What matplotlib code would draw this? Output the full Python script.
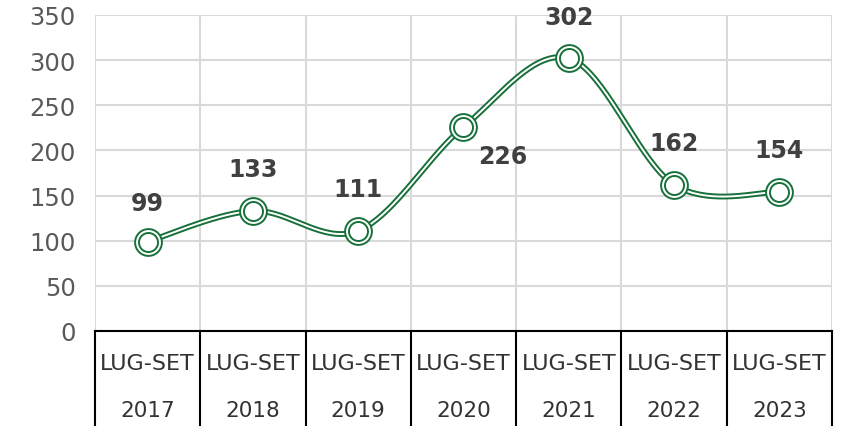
import numpy as np
import matplotlib.pyplot as plt

periods = ["LUG-SET"] * 7
years = ["2017", "2018", "2019", "2020", "2021", "2022", "2023"]
values = [99, 133, 111, 226, 302, 162, 154]

green = "#17703a"
text_col = "#404040"
grid_col = "#d9d9d9"


def smooth(xs, ys, n=40):
    # Excel-like smoothed line (Catmull-Rom as cubic bezier)
    px = np.concatenate([[xs[0]], xs, [xs[-1]]])
    py = np.concatenate([[ys[0]], ys, [ys[-1]]])
    out_x, out_y = [], []
    t = np.linspace(0, 1, n)
    for i in range(1, len(px) - 2):
        p0 = np.array([px[i], py[i]])
        p3 = np.array([px[i + 1], py[i + 1]])
        c1 = p0 + (p3 - np.array([px[i - 1], py[i - 1]])) / 6
        c2 = p3 - (np.array([px[i + 2], py[i + 2]]) - p0) / 6
        b = ((1 - t) ** 3)[:, None] * p0 + (3 * (1 - t) ** 2 * t)[:, None] * c1 \
            + (3 * (1 - t) * t ** 2)[:, None] * c2 + (t ** 3)[:, None] * p3
        out_x.extend(b[:, 0])
        out_y.extend(b[:, 1])
    return np.array(out_x), np.array(out_y)


x = np.arange(len(values))
sx, sy = smooth(x.astype(float), np.array(values, dtype=float))

fig = plt.figure(figsize=(8.43, 4.27), dpi=100)
ax = fig.add_axes([95 / 843, 95 / 427, 737 / 843, 316 / 427])

ax.set_xlim(-0.5, len(values) - 0.5)
ax.set_ylim(0, 350)
ax.set_yticks(range(0, 351, 50))
ax.set_xticks([])
for yv in range(50, 351, 50):
    ax.axhline(yv, color=grid_col, lw=1.5, zorder=0)
for b in np.arange(-0.5, len(values), 1.0):
    ax.axvline(b, color=grid_col, lw=1.5, zorder=0)
for s in ax.spines.values():
    s.set_visible(False)
ax.tick_params(axis="y", length=0, labelsize=17.5, labelcolor="#595959", pad=14)

# double line
ax.plot(sx, sy, color=green, lw=4.2, solid_capstyle="round", zorder=3)
ax.plot(sx, sy, color="white", lw=1.4, solid_capstyle="round", zorder=4)
# double ring markers
ax.plot(x, values, "o", ms=16.5, mfc="white", mec=green, mew=4.2, zorder=5)
ax.plot(x, values, "o", ms=16.5, mfc="none", mec="white", mew=1.4, zorder=6)

# data labels
offsets = [(0, 28), (0, 30), (0, 30), (28, -21), (0, 30), (0, 30), (0, 30)]
for xi, v, (dx, dy) in zip(x, values, offsets):
    ax.annotate(str(v), (xi, v), xytext=(dx, dy), textcoords="offset points",
                ha="center", va="center", fontsize=17, fontweight="bold",
                color=text_col, zorder=7)

# x axis with two-level category labels
px_unit = 350 / 316
ax.plot([0, 1], [0, 0], transform=ax.transAxes, color="black", lw=1.5, clip_on=False, zorder=8)
for b in np.arange(-0.5, len(values), 1.0):
    ax.plot([b, b], [0, -110], color="black", lw=1.5, clip_on=False, zorder=8)
for xi, p, yr in zip(x, periods, years):
    ax.text(xi, -32 * px_unit, p, ha="center", va="center", fontsize=16, color="#333333")
    ax.text(xi, -79 * px_unit, yr, ha="center", va="center", fontsize=15.5, color="#333333")

fig.savefig("out.png", dpi=100)
